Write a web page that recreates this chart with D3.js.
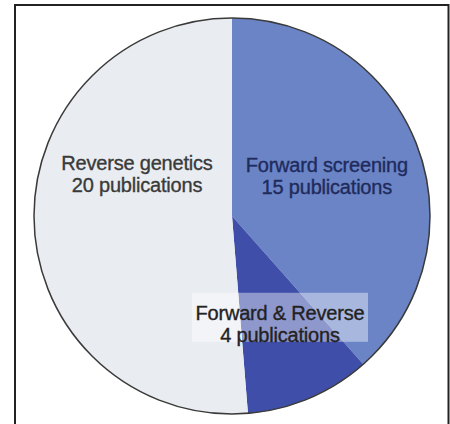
<!DOCTYPE html>
<html>
<head>
<meta charset="utf-8">
<script src="https://cdn.jsdelivr.net/npm/d3@7"></script>
<style>
  html, body { margin: 0; padding: 0; background: #fff; }
  svg { display: block; }
</style>
</head>
<body>
<svg id="chart" width="450" height="424"></svg>
<script>
// Publication counts by approach
const categories = ["Forward screening", "Forward & Reverse", "Reverse genetics"];
const publications = [15, 4, 20];
const countLabels = ["15 publications", "4 publications", "20 publications"];

const sliceColors = ["#6a84c6", "#3f4fa9", "#e9edf1"];
const textColors = ["#1f2b5c", "#222222", "#3a3a3a"];
// label placement: angle (deg, clockwise from top) and distance from the centre
const labelAngles = [67, 156, 294];
const labelRadius = [103, 118, 104];

const svg = d3.select("#chart");
const cx = 232, cy = 216, R = 198;

// outer frame
svg.append("rect")
  .attr("x", 15).attr("y", 5)
  .attr("width", 450 - 15 - 1.5).attr("height", 440)
  .attr("fill", "none").attr("stroke", "#222").attr("stroke-width", 2);

const data = categories.map((c, i) => ({ category: c, value: publications[i], label: countLabels[i], i }));

const pie = d3.pie().sort(null).value(d => d.value);
const arc = d3.arc().innerRadius(0).outerRadius(R);
const arcs = pie(data);

const g = svg.append("g").attr("transform", `translate(${cx},${cy})`);

g.selectAll("path.slice")
  .data(arcs)
  .join("path")
  .attr("class", "slice")
  .attr("d", arc)
  .attr("fill", d => sliceColors[d.data.i]);

// outline of the pie
g.append("circle")
  .attr("r", R)
  .attr("fill", "none")
  .attr("stroke", "#3a3a3a")
  .attr("stroke-width", 1.5);

const lineH = 22;
const fontSize = 20;

function labelPos(d) {
  const a = labelAngles[d.data.i] * Math.PI / 180;
  const r = labelRadius[d.data.i];
  return [r * Math.sin(a), -r * Math.cos(a)];
}

// translucent backing box for the small slice label
arcs.filter(d => d.data.i === 1).forEach(d => {
  const [x, y] = labelPos(d);
  g.append("rect")
    .attr("x", x - 88).attr("y", y - 31)
    .attr("width", 176).attr("height", 49)
    .attr("fill", "#ffffff").attr("fill-opacity", 0.42);
});

const labels = g.selectAll("text.lbl")
  .data(arcs)
  .join("text")
  .attr("class", "lbl")
  .attr("text-anchor", "middle")
  .attr("font-family", "'Liberation Sans', Arial, sans-serif")
  .attr("font-size", fontSize)
  .attr("letter-spacing", -0.2)
  .attr("fill", d => textColors[d.data.i])
  .attr("stroke", d => textColors[d.data.i])
  .attr("stroke-width", 0.35)
  .attr("transform", d => { const p = labelPos(d); return `translate(${p[0]},${p[1]})`; });

labels.append("tspan").attr("x", 0).attr("y", -4).text(d => d.data.category);
labels.append("tspan").attr("x", 0).attr("y", -4 + lineH).text(d => d.data.label);
</script>
</body>
</html>
